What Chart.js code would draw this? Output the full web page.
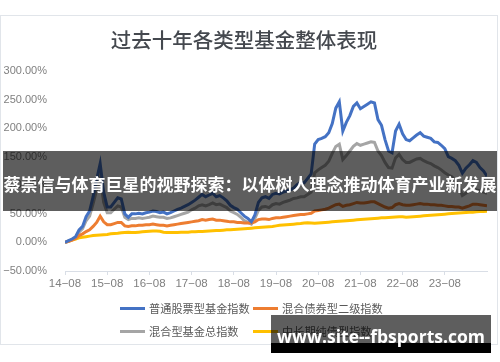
<!DOCTYPE html>
<html><head><meta charset="utf-8">
<script src="https://cdn.jsdelivr.net/npm/chart.js@4"></script>
<style>
html,body{margin:0;padding:0;background:#fff;width:500px;height:362px;overflow:hidden;}
#wrap{position:relative;width:500px;height:362px;}
#card{position:absolute;left:0;top:15px;width:498px;height:330px;border:1px solid #e1e5ea;box-sizing:border-box;}
canvas{position:absolute;left:0;top:0;}
#title{position:absolute;left:0;width:488px;top:27px;text-align:center;font:500 20.5px "Noto Sans CJK SC";color:#44484e;line-height:24px;white-space:nowrap;}
.leg{position:absolute;font:11.2px "Noto Sans CJK SC";color:#595959;line-height:14px;white-space:nowrap;}
.sw{position:absolute;height:3px;width:25px;}
#banner{position:absolute;left:3px;top:151px;width:494px;height:60px;background:rgba(0,0,0,0.63);}
#btext{position:absolute;left:0;top:173px;width:500px;text-align:center;font:bold 17px "Noto Sans CJK SC";color:#fff;line-height:22px;white-space:nowrap;}
#wm{position:absolute;left:271px;top:315px;width:220px;height:28px;background:rgba(0,0,0,0.63);}
#wmb{position:absolute;left:271px;top:343px;width:220px;height:10px;background:#000;}
#wmt{position:absolute;left:271px;width:220px;top:326px;text-align:center;font:bold 17.5px "Open Sans";color:#fff;line-height:20px;white-space:nowrap;}
</style></head>
<body><div id="wrap">
<div id="card"></div>
<canvas id="c" width="500" height="362"></canvas>
<div id="title">过去十年各类型基金整体表现</div>
<div class="sw" style="left:120px;top:307px;background:#4472C4"></div>
<div class="leg" style="left:149px;top:301px">普通股票型基金指数</div>
<div class="sw" style="left:253px;top:307px;background:#ED7D31"></div>
<div class="leg" style="left:282px;top:301px">混合债券型二级指数</div>
<div class="sw" style="left:120px;top:330px;background:#A5A5A5"></div>
<div class="leg" style="left:149px;top:324px">混合型基金总指数</div>
<div class="sw" style="left:253px;top:330px;background:#FFC000"></div>
<div class="leg" style="left:282px;top:324px">中长期纯债型指数</div>
<div id="banner"></div>
<div id="btext">蔡崇信与体育巨星的视野探索：以体树人理念推动体育产业新发展</div>
<div id="wm"></div><div id="wmb"></div>
<div id="wmt">www.site--fbsports.com</div>
</div>
<script>
// x tick labels (one per year, every 12 months starting 2014-08)
const yearTicks = ['14-08','15-08','16-08','17-08','18-08','19-08','20-08','21-08','22-08','23-08'];
const seriesNames = ['普通股票型基金指数','混合债券型二级指数','混合型基金总指数','中长期纯债型指数'];
// monthly cumulative returns (%), 2014-08 .. 2024-08
const stockFund = [
0,3,6,10,22,28,45,55,80,110,
138,88,62,62,70,78,76,50,44,50,
50,51,50,52,53,55,54,52,53,50,
52,55,58,60,63,66,70,74,79,84,
80,83,86,80,82,78,73,65,61,58,
52,46,42,36,48,70,78,80,77,84,
86,85,88,90,92,95,101,105,104,112,
120,172,180,182,185,192,208,235,246,195,
210,222,238,244,234,238,242,246,244,215,
205,180,160,157,195,207,190,180,178,183,
188,192,186,184,182,176,175,170,164,150,
147,143,135,121,130,136,143,140,131,125,
116];
const bondMix2 = [
0,2,4,7,12,15,19,22,28,35,
46,36,31,31,33,35,35,29,28,29,
29,30,30,31,31,32,31,30,30,29,
30,31,32,33,34,35,36,37,38,40,
39,40,41,39,39,38,37,36,36,35,
35,34,34,34,36,40,41,41,40,42,
43,43,44,45,46,47,48,49,49,50,
51,55,56,57,58,60,63,66,67,63,
65,66,68,70,69,69,70,71,71,68,
65,62,60,61,66,68,66,65,65,66,
67,68,67,67,66,66,65,65,64,63,
63,62,62,60,62,64,67,67,66,65,
64];
const mixedFund = [
0,2,5,8,18,24,38,46,68,92,
116,70,52,52,58,64,62,44,40,42,
42,43,42,43,44,46,45,44,44,42,
43,45,47,49,51,53,57,60,64,66,
64,66,69,66,67,64,61,55,52,49,
44,38,35,32,42,56,62,63,61,66,
68,67,70,72,74,77,78,80,80,84,
88,122,127,131,135,142,156,168,172,145,
152,160,168,173,170,172,174,176,175,160,
152,140,131,130,148,154,145,140,140,143,
146,147,143,140,138,134,131,127,122,118,
115,108,98,82,86,90,94,92,90,88,
86];
const pureBond = [
0,2,4,6,8,9,10,11,12,12.5,
13,13.5,14,15,15.5,16,17,17.5,18,17.5,
17.5,18,18.5,19,19.5,20,20,19.5,18,17.5,
17.5,17.5,17.5,18,18,18,18.5,18.5,19,19,
19.5,20,20.5,21,21,21.5,22,22,22.5,23,
23.5,24,24.5,25,25.5,26,26.5,27,27.5,28,
29,30,30.5,31,31.5,32,32.5,33,34,34.5,
34,33.5,34,34.5,35,35.5,36,36.5,37,37.5,
38,38.5,39,39.5,40,40.5,41,41.5,42,42.5,
43,43,43.5,44,44.5,45,45,44,44.5,45,
45.5,46,46.5,47,47.5,48,48.5,49,49.5,50,
50.5,51,51.5,52,52.5,53,53,53.5,54,54,
54.5];
const monthIdx = stockFund.map((_, i) => i);

const axisCol = '#d9dee6';
new Chart(document.getElementById('c'), {
  type: 'line',
  data: {
    labels: monthIdx,
    datasets: [
      {label: seriesNames[0], data: stockFund, borderColor: '#4472C4'},
      {label: seriesNames[1], data: bondMix2, borderColor: '#ED7D31'},
      {label: seriesNames[2], data: mixedFund, borderColor: '#A5A5A5'},
      {label: seriesNames[3], data: pureBond, borderColor: '#FFC000'}
    ]
  },
  options: {
    responsive: false, animation: false,
    layout: {padding: {left: 0, right: 13, top: 71, bottom: 71}},
    plugins: {legend: {display: false}, tooltip: {enabled: false}},
    elements: {point: {radius: 0}, line: {tension: 0, borderWidth: 3, fill: false}},
    scales: {
      x: {
        type: 'linear', min: 0, max: 120,
        afterFit(s) { s.height = 20; },
        grid: {drawOnChartArea: false, drawTicks: true, tickLength: 4,
               color: c => (c.tick && c.tick.value >= 120) ? 'rgba(0,0,0,0)' : axisCol},
        border: {color: axisCol},
        ticks: {stepSize: 12, autoSkip: false, maxRotation: 0, padding: 2,
                font: {family: 'Liberation Sans', size: 11.5}, color: '#808080',
                callback: v => { const t = yearTicks[Math.round(v / 12)]; return t ? t.replace('-', '\u2212') : ''; }}
      },
      y: {
        min: -50, max: 300,
        afterFit(s) { s.width = 65; },
        grid: {display: false},
        border: {display: false},
        ticks: {stepSize: 50, padding: 10, font: {family: 'Liberation Sans', size: 11}, color: '#808080',
                callback: v => (v < 0 ? '\u2212' : '') + Math.abs(v).toFixed(2) + '%'}
      }
    }
  }
});
</script>
</body></html>
